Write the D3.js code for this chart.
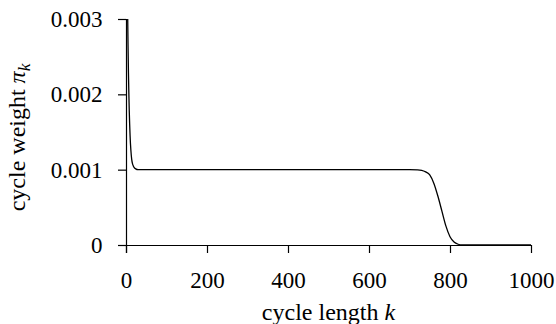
<!DOCTYPE html>
<html><head><meta charset="utf-8">
<script src="https://cdn.jsdelivr.net/npm/d3@7"></script>
<style>
html,body{margin:0;padding:0;background:#fff;}
svg{display:block;}
</style></head>
<body>
<svg id="c" width="556" height="324"></svg>
<script>
// cycle length k
const cycleLength = [1,2,3,4,5,6,7,8,9,10,12,14,16,18,20,24,30,100,200,300,400,500,600,700,720,730,740,750,760,770,780,790,800,810,820,830,900,1000];
// cycle weight pi_k
const cycleWeight = [0.0055,0.0045,0.0037,0.0031,0.00266,0.0023,0.00202,0.00179,0.00161,0.00146,0.00126,0.00114,0.00108,0.00105,0.00103,0.00101,0.001,0.001,0.001,0.001,0.001,0.001,0.001,0.001,0.000998,0.000992,0.00097,0.00093,0.00082,0.00065,0.00045,0.00025,0.00011,0.00004,0.00001,0,0,0];
const xTicks = [0,200,400,600,800,1000];
const yTicks = [0,0.001,0.002,0.003];
const yTickLabels = ["0","0.001","0.002","0.003"];
const xTitle = "cycle length ";
const yTitle = "cycle weight ";

const FONT = "'Liberation Serif','Times New Roman',serif";
const svg = d3.select("#c");
const L = 126, R = 531, T = 19, B = 245;
const x = d3.scaleLinear().domain([0,1000]).range([L,R]);
const y = d3.scaleLinear().domain([0,0.003]).range([B,T]);

svg.append("clipPath").attr("id","clip").append("rect")
  .attr("x",L).attr("y",T).attr("width",R-L+2).attr("height",B-T+1);

const data = cycleLength.map((k,i)=>({k, v:cycleWeight[i]}));
const line = d3.line().x(d=>x(d.k)).y(d=>y(d.v)).curve(d3.curveMonotoneX);
svg.append("path").datum(data).attr("d",line).attr("clip-path","url(#clip)")
  .attr("fill","none").attr("stroke","#000").attr("stroke-width",1.3);

const fs = 23, tfs = 24;
const xa = svg.append("g").attr("transform",`translate(0,${B})`)
  .call(d3.axisBottom(x).tickValues(xTicks).tickFormat(d3.format("d")).tickSize(8).tickSizeOuter(0));
const ya = svg.append("g").attr("transform",`translate(${L},0)`)
  .call(d3.axisLeft(y).tickValues(yTicks).tickFormat((d,i)=>yTickLabels[i]).tickSize(8).tickSizeOuter(0));
[xa,ya].forEach(g=>{
  g.attr("font-family",null).attr("font-size",null);
  g.selectAll("path,line").attr("stroke","#000").attr("stroke-width",1.2);
  g.selectAll("text").style("font-family",FONT).style("font-size",fs+"px").attr("fill","#000");
});
xa.select(".domain").attr("d",`M${L},0.5H${R}`);
ya.select(".domain").attr("d",`M0.5,${T}V${B+8}`);
xa.selectAll("text").attr("dy",null).attr("y",287.5-B);
ya.selectAll("text").attr("x",-23.5).attr("dy","0.33em");

const xt = svg.append("text").attr("x",(L+R)/2).attr("y",320).attr("text-anchor","middle")
  .style("font-family",FONT).style("font-size",tfs+"px");
xt.append("tspan").text(xTitle);
xt.append("tspan").style("font-style","italic").text("k");

const yt = svg.append("text").attr("transform",`translate(25,137.5) rotate(-90)`).attr("text-anchor","middle")
  .style("font-family",FONT).style("font-size",tfs+"px");
yt.append("tspan").text(yTitle);
yt.append("tspan").style("font-style","italic").text("π");
yt.append("tspan").style("font-style","italic").style("font-size",(tfs*0.72)+"px").attr("dy",5).text("k");
</script>
</body></html>
